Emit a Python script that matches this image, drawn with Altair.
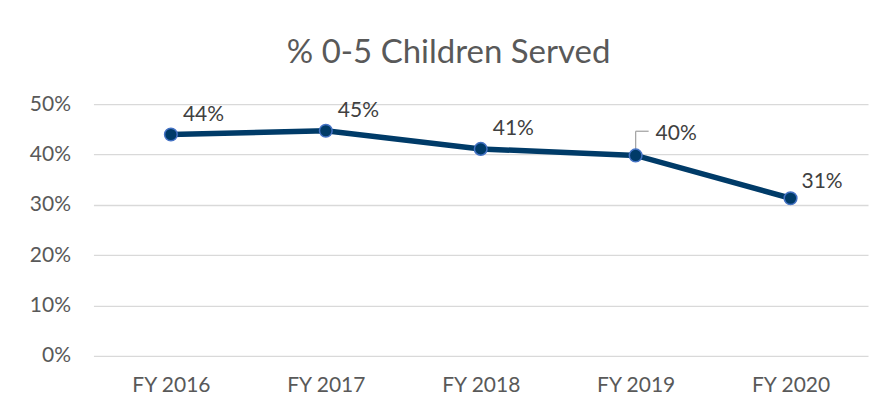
import altair as alt
import pandas as pd

years = ["FY 2016", "FY 2017", "FY 2018", "FY 2019", "FY 2020"]
values = [0.4395, 0.447, 0.411, 0.398, 0.313]
labels = ["44%", "45%", "41%", "40%", "31%"]

df = pd.DataFrame({"year": years, "value": values, "label": labels})

FONT = "Lato"
GRAY = "#595959"

xscale = alt.Scale(type="point", padding=0.5)

x = alt.X("year:N", sort=years, title=None, scale=xscale,
          axis=alt.Axis(labelAngle=0, labelAlign="center", ticks=False,
                        domain=False, grid=False,
                        labelFont=FONT, labelFontSize=21, labelColor=GRAY,
                        labelPadding=30))
y = alt.Y("value:Q", title=None,
          scale=alt.Scale(domain=[0, 0.5], nice=False),
          axis=alt.Axis(values=[0, 0.1, 0.2, 0.3, 0.4, 0.5], format=".0%",
                        ticks=False, domain=False, gridColor="#d9d9d9",
                        gridWidth=1.3, labelFont=FONT, labelFontSize=21,
                        labelColor=GRAY, labelPadding=23))

base = alt.Chart(df).encode(x=x, y=y)

line = base.mark_line(color="#003b68", strokeWidth=5.5)
pts = base.mark_point(filled=True, size=160, shape="circle", fill="#003b68",
                      stroke="#4472c4", strokeWidth=1.5, opacity=1)

txt_style = dict(align="left", baseline="alphabetic", font=FONT, fontSize=21,
                 color="#404040")
txt_main = base.mark_text(dx=12, dy=-14, **txt_style).encode(text="label:N").transform_filter(
    "datum.year != 'FY 2019' && datum.year != 'FY 2020'")
txt_40 = base.mark_text(dx=20, dy=-15, **txt_style).encode(text="label:N").transform_filter(
    "datum.year == 'FY 2019'")
txt_31 = base.mark_text(dx=11, dy=-10, **txt_style).encode(text="label:N").transform_filter(
    "datum.year == 'FY 2020'")

leader_df = pd.DataFrame({"year": ["FY 2019"], "value": [0.398], "top": [0.446]})
lead_v = alt.Chart(leader_df).mark_rule(color="#a6a6a6", strokeWidth=1.3).encode(
    x=alt.X("year:N", sort=years, scale=xscale),
    y="value:Q", y2="top:Q")
lead_h = alt.Chart(leader_df).mark_rule(color="#a6a6a6", strokeWidth=1.3, x2Offset=13).encode(
    x=alt.X("year:N", sort=years, scale=xscale),
    x2=alt.X2("year:N"), y="top:Q")

chart = alt.layer(lead_v, lead_h, line, pts, txt_main, txt_40, txt_31).properties(
    width=775, height=252,
    background="white",
    title=alt.TitleParams("% 0-5 Children Served", font=FONT, fontSize=33,
                          fontWeight="normal", color=GRAY, offset=23,
                          anchor="middle", frame="bounds"),
    autosize=alt.AutoSizeParams(type="none"),
    padding={"left": 85.5, "top": 96, "right": 2, "bottom": 51},
).configure_view(stroke=None)

chart.save("out.html", embed_options={"renderer": "svg", "actions": False})
